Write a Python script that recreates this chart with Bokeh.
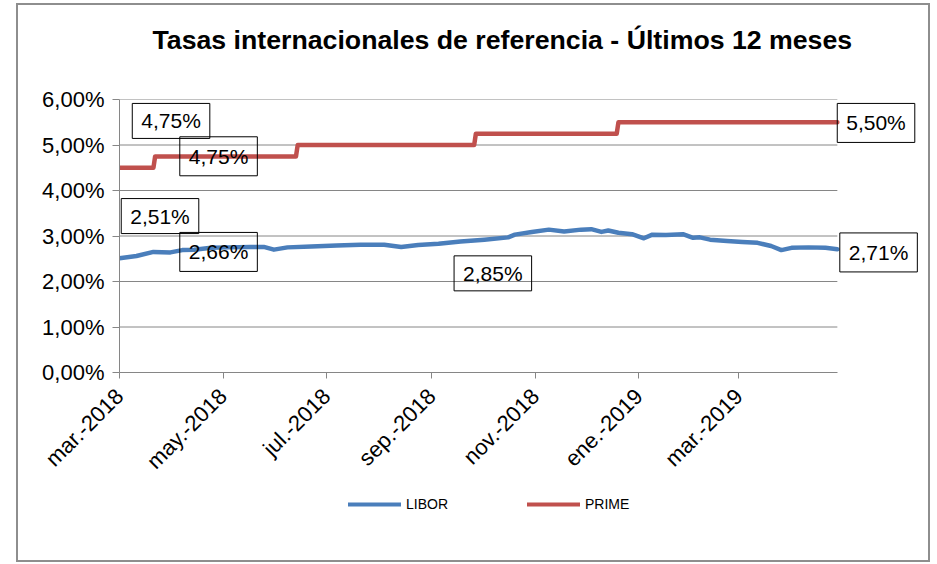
import pandas as pd
from bokeh.plotting import figure
from bokeh.layouts import column
from bokeh.models import FixedTicker, Range1d, Label, Legend, LegendItem
from bokeh.embed import file_html
from bokeh.resources import INLINE

# ---- data ----
libor_dates = ["2018-03-01", "2018-03-11", "2018-03-21", "2018-03-31", "2018-04-07", "2018-04-14",
               "2018-04-24", "2018-05-04", "2018-05-17", "2018-05-25", "2018-05-31", "2018-06-08",
               "2018-06-22", "2018-07-07", "2018-07-21", "2018-08-04", "2018-08-14", "2018-08-24",
               "2018-09-05", "2018-09-18", "2018-10-02", "2018-10-16", "2018-10-20", "2018-10-30",
               "2018-11-09", "2018-11-18", "2018-11-28", "2018-12-04", "2018-12-10", "2018-12-14",
               "2018-12-20", "2018-12-28", "2019-01-04", "2019-01-09", "2019-01-17", "2019-01-27",
               "2019-02-02", "2019-02-06", "2019-02-12", "2019-02-22", "2019-03-03", "2019-03-12",
               "2019-03-20", "2019-03-26", "2019-04-01", "2019-04-11", "2019-04-21", "2019-04-28"]
libor_vals = [2.51, 2.56, 2.65, 2.64, 2.69, 2.70,
              2.74, 2.75, 2.76, 2.76, 2.70, 2.75,
              2.77, 2.79, 2.81, 2.81, 2.76, 2.80,
              2.83, 2.88, 2.92, 2.97, 3.03, 3.09,
              3.14, 3.10, 3.14, 3.15, 3.09, 3.12,
              3.07, 3.04, 2.95, 3.03, 3.02, 3.04,
              2.96, 2.97, 2.92, 2.89, 2.87, 2.85,
              2.78, 2.69, 2.74, 2.75, 2.74, 2.71]

prime_dates = ["2018-03-01", "2018-03-21", "2018-03-22", "2018-06-13", "2018-06-14",
               "2018-09-26", "2018-09-27", "2018-12-19", "2018-12-20", "2019-04-28"]
prime_vals = [4.50, 4.50, 4.75, 4.75, 5.00, 5.00, 5.25, 5.25, 5.50, 5.50]

x_tick_dates = ["2018-03-01", "2018-05-01", "2018-07-01", "2018-09-01",
                "2018-11-01", "2019-01-01", "2019-03-01"]
x_tick_labels = ["mar.-2018", "may.-2018", "jul.-2018", "sep.-2018",
                 "nov.-2018", "ene.-2019", "mar.-2019"]
y_ticks = [0, 1, 2, 3, 4, 5, 6]
y_tick_labels = ["0,00%", "1,00%", "2,00%", "3,00%", "4,00%", "5,00%", "6,00%"]

label_texts = ["4,75%", "4,75%", "2,51%", "2,66%", "2,85%", "5,50%", "2,71%"]
# placement of the data-label boxes (date, value position)
label_at_dates = ["2018-03-31 09:00", "2018-04-28 09:00", "2018-03-24 21:00", "2018-04-28 09:00",
                  "2018-10-07 00:00", "2019-05-20 19:00", "2019-05-22 07:00"]
label_at_vals = [5.529, 4.752, 3.438, 2.650, 2.179, 5.485, 2.639]
label_tall = [False, True, False, True, False, True, True]

x_start, x_data_end, x_view_end = "2018-03-01", "2019-04-28", "2019-06-16"


def ms(d):
    return pd.Timestamp(d).value / 1e6


FONT = "Liberation Sans"
GRID = "#868686"
BLUE = "#4A7EBB"
RED = "#C0504D"

p = figure(width=910, height=480, x_axis_type="datetime",
           x_range=Range1d(ms(x_start), ms(x_view_end)), y_range=Range1d(0, 6),
           output_backend="svg", toolbar_location=None,
           min_border_left=101, min_border_right=8, min_border_top=94, min_border_bottom=112)

p.title.text = "Tasas internacionales de referencia - Últimos 12 meses"
p.title.text_font = FONT
p.title.text_font_style = "bold"
p.title.text_font_size = "26.7px"
p.title.text_color = "black"
p.title.align = "left"
p.title.offset = 33
p.title.standoff = 0
p.title.vertical_align = "bottom"
p.title.padding = dict(left=0, right=0, top=6, bottom=45)

p.outline_line_color = None
p.background_fill_color = "white"
p.border_fill_color = "white"

p.xgrid.grid_line_color = None
p.ygrid.grid_line_color = None

# horizontal gridlines over the data span
p.segment(x0=pd.to_datetime([x_start] * (len(y_ticks) - 1)), y0=y_ticks[1:],
          x1=pd.to_datetime([x_data_end] * (len(y_ticks) - 1)), y1=y_ticks[1:],
          line_color=GRID, line_width=1)

# y axis
p.yaxis.ticker = FixedTicker(ticks=y_ticks)
p.yaxis.major_label_overrides = {t: l for t, l in zip(y_ticks, y_tick_labels)}
p.yaxis.axis_line_color = GRID
p.yaxis.major_tick_line_color = GRID
p.yaxis.major_tick_out = 7
p.yaxis.major_tick_in = 0
p.yaxis.minor_tick_line_color = None
p.yaxis.major_label_text_font = FONT
p.yaxis.major_label_text_font_size = "22px"
p.yaxis.major_label_text_color = "black"
p.yaxis.major_label_standoff = 8

# x axis
xt = [ms(d) for d in x_tick_dates]
p.xaxis.ticker = FixedTicker(ticks=xt)
p.xaxis.major_label_overrides = {t: l for t, l in zip(xt, x_tick_labels)}
p.xaxis.major_label_orientation = 0.785398
p.xaxis.bounds = (ms(x_start), ms(x_data_end))
p.xaxis.axis_line_color = GRID
p.xaxis.major_tick_line_color = GRID
p.xaxis.major_tick_out = 6
p.xaxis.major_tick_in = 0
p.xaxis.minor_tick_line_color = None
p.xaxis.major_label_text_font = FONT
p.xaxis.major_label_text_font_size = "22px"
p.xaxis.major_label_text_color = "black"
p.xaxis.major_label_standoff = 14

p.line(pd.to_datetime(libor_dates), libor_vals, line_color=BLUE,
       line_width=4.5, line_join="round", line_cap="round")
p.line(pd.to_datetime(prime_dates), prime_vals, line_color=RED,
       line_width=4.5, line_join="round", line_cap="round")

for t, d, v, tall in zip(label_texts, label_at_dates, label_at_vals, label_tall):
    pad_v = 8 if tall else 6
    p.add_layout(Label(x=ms(d), y=v, text=t, text_align="center", text_baseline="middle",
                       text_font=FONT, text_font_size="21px", text_color="black",
                       border_line_color="black", border_line_width=1,
                       background_fill_color=None,
                       padding=dict(left=9, right=9, top=pad_v, bottom=pad_v)))

# legend strip below the chart (its series sit outside this strip's visible range)
q = figure(width=910, height=75, x_range=Range1d(0, 1), y_range=Range1d(0, 1),
           output_backend="svg", toolbar_location=None,
           x_axis_location=None, y_axis_location=None, min_border=0)
q.grid.visible = False
q.outline_line_color = None
q.border_fill_color = "white"
q.background_fill_color = "white"
g_libor = q.line(pd.to_datetime(libor_dates), libor_vals, line_color=BLUE, line_width=4,
                 line_cap="round")
g_prime = q.line(pd.to_datetime(prime_dates), prime_vals, line_color=RED, line_width=4,
                 line_cap="round")
legend = Legend(items=[LegendItem(label="LIBOR", renderers=[g_libor]),
                       LegendItem(label="PRIME", renderers=[g_prime])],
                orientation="horizontal", location=(229, 46),
                glyph_width=53, glyph_height=20, label_standoff=5, spacing=79,
                padding=0, margin=0, border_line_color=None, background_fill_alpha=0,
                label_text_font=FONT, label_text_font_size="14px", label_text_color="black")
q.add_layout(legend)

layout = column(p, q, spacing=0,
                styles={"border": "2px solid #8e8e8e", "margin-left": "16px", "margin-top": "3px"})

open("out.html", "w").write(file_html(layout, INLINE))
